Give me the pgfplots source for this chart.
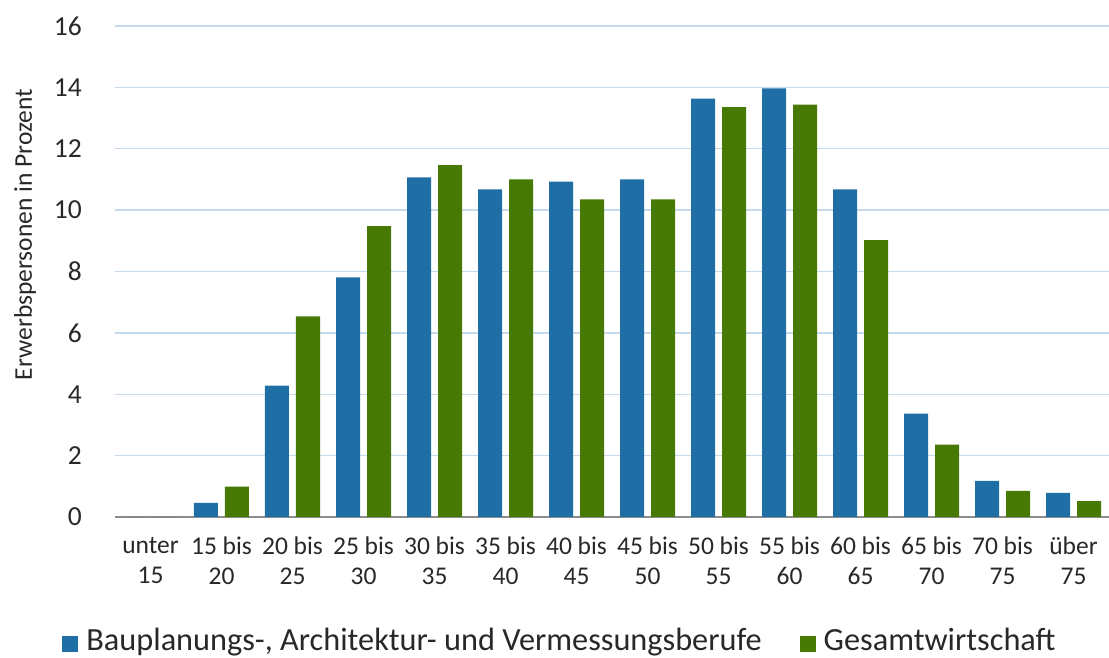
\documentclass[border=0pt]{standalone}
\usepackage{pgfplots}
\pgfplotsset{compat=1.18}
\usepackage{fontspec}
\setmainfont{Carlito}
\definecolor{cblue}{RGB}{31,110,165}
\definecolor{cgreen}{RGB}{71,122,5}
\definecolor{cgrid}{RGB}{197,218,236}
\definecolor{ctext}{RGB}{40,40,40}
\definecolor{caxis}{RGB}{140,140,140}
\begin{document}
\begin{tikzpicture}
\path[use as bounding box] (-115pt,-141pt) rectangle (994pt,517pt);
\begin{axis}[
  at={(0pt,0pt)}, anchor=south west,
  scale only axis, width=994pt, height=491pt,
  ybar=7pt, bar width=24pt,
  xmin=-0.5, xmax=13.5, ymin=0, ymax=16,
  xtick={0,...,13},
  xticklabels={{unter\\15},{15 bis\\20},{20 bis\\25},{25 bis\\30},{30 bis\\35},{35 bis\\40},{40 bis\\45},{45 bis\\50},{50 bis\\55},{55 bis\\60},{60 bis\\65},{65 bis\\70},{70 bis\\75},{über\\75}},
  ytick={0,2,...,16},
  axis line style={draw=none},
  major tick length=0pt,
  ymajorgrids, grid style={cgrid, line width=1.3pt},
  /pgf/number format/assume math mode=true,
  xticklabel style={font=\fontsize{25.5}{30}\selectfont, text=ctext, align=center, anchor=north, inner sep=0pt, yshift=-20pt},
  yticklabel style={font=\fontsize{27.5}{30}\selectfont, text=ctext, anchor=east, inner sep=0pt, xshift=-33pt},
  ylabel={Erwerbspersonen in Prozent},
  ylabel style={font=\fontsize{25.5}{28}\selectfont, text=ctext, at={([xshift=-90pt,yshift=37pt]axis description cs:0,0.5)}, anchor=center, rotate=0},
  legend columns=2,
  legend style={draw=none, fill=none, inner sep=0pt, at={([yshift=-123pt]axis description cs:0.4467,0)}, anchor=center,
    font=\fontsize{32.3}{36}\selectfont, text=ctext,
    nodes={inner sep=0pt},
    /tikz/every odd column/.append style={column sep=8pt},
    /tikz/every even column/.append style={column sep=38pt}},
  legend image code/.code={\fill[#1] (0pt,-12pt) rectangle (16pt,4pt);},
  extra y ticks={0}, extra y tick labels={},
  extra y tick style={grid style={caxis, line width=1.6pt}},
]
\addplot[fill=cblue, draw=none] coordinates {(0,0) (1,0.46) (2,4.28) (3,7.81) (4,11.07) (5,10.68) (6,10.93) (7,11.0) (8,13.63) (9,13.97) (10,10.68) (11,3.37) (12,1.18) (13,0.79)};
\addplot[fill=cgreen, draw=none] coordinates {(0,0) (1,0.99) (2,6.54) (3,9.48) (4,11.47) (5,11.0) (6,10.35) (7,10.35) (8,13.36) (9,13.44) (10,9.02) (11,2.36) (12,0.85) (13,0.52)};
\legend{{Bauplanungs-, Architektur- und Vermessungsberufe}, {Gesamtwirtschaft}}
\end{axis}
\end{tikzpicture}
\end{document}
